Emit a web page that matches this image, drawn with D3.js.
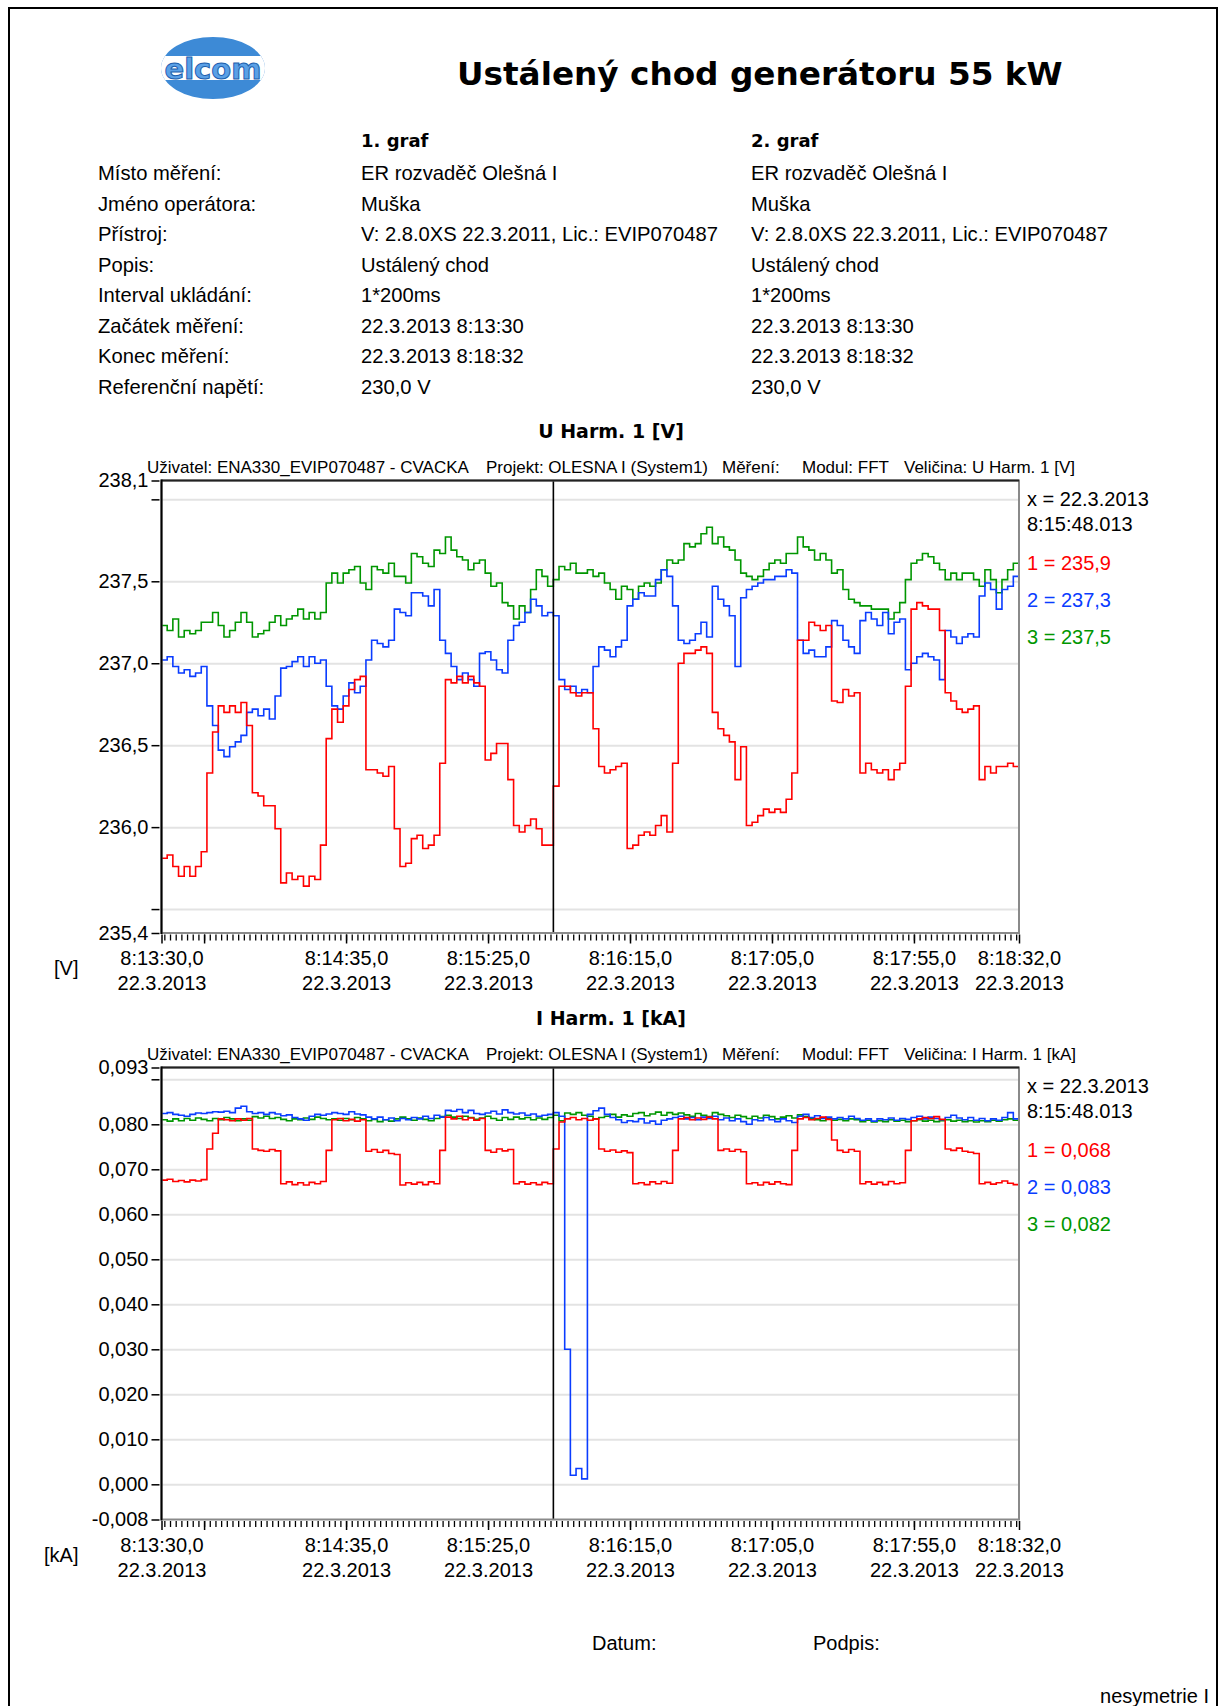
<!DOCTYPE html>
<html>
<head>
<meta charset="utf-8">
<script src="https://cdn.jsdelivr.net/npm/d3@7"></script>
<style>
  body { margin: 0; background: #fff; }
  svg text { font-family: "Liberation Sans", Arial, sans-serif; fill: #000; }
</style>
</head>
<body>
<svg id="page" width="1222" height="1706"></svg>
<script>
// ---- report header ----
const reportTitle = "Ustálený chod generátoru 55 kW";
const columnTitles = ["1. graf", "2. graf"];
const headerLabels = ["Místo měření:", "Jméno operátora:", "Přístroj:", "Popis:", "Interval ukládání:",
    "Začátek měření:", "Konec měření:", "Referenční napětí:"];
const graf1Values = ["ER rozvaděč Olešná I", "Muška", "V: 2.8.0XS 22.3.2011, Lic.: EVIP070487", "Ustálený chod",
    "1*200ms", "22.3.2013 8:13:30", "22.3.2013 8:18:32", "230,0 V"];
const graf2Values = ["ER rozvaděč Olešná I", "Muška", "V: 2.8.0XS 22.3.2011, Lic.: EVIP070487", "Ustálený chod",
    "1*200ms", "22.3.2013 8:13:30", "22.3.2013 8:18:32", "230,0 V"];

// ---- time axis (seconds from 8:13:30) ----
const startClock = [8, 13, 30];
const dateLabel = "22.3.2013";
const duration = 302;
const sampleStep = 2;
const majorTicks = [0, 15, 65, 115, 165, 215, 265, 302];
const labelTicks = [0, 65, 115, 165, 215, 265, 302];
const cursorTime = 138.013;
const cursorLabel = ["x = 22.3.2013", "8:15:48.013"];

// ---- U Harm. 1 [V], one value every 2 s ----
const uRed = [
  235.81, 235.83, 235.76, 235.70, 235.76, 235.70, 235.76, 235.85,
  236.33, 236.58, 236.74, 236.70, 236.74, 236.70, 236.76, 236.62,
  236.21, 236.19, 236.13, 236.13, 235.99, 235.66, 235.72, 235.68,
  235.70, 235.64, 235.70, 235.68, 235.89, 236.54, 236.72, 236.64,
  236.74, 236.84, 236.90, 236.92, 236.35, 236.35, 236.33, 236.31,
  236.37, 235.99, 235.76, 235.78, 235.93, 235.95, 235.87, 235.89,
  235.95, 236.39, 236.90, 236.88, 236.92, 236.88, 236.92, 236.88,
  236.86, 236.41, 236.45, 236.51, 236.51, 236.29, 236.01, 235.97,
  236.01, 236.05, 235.99, 235.89, 235.89, 236.25, 236.86, 236.86,
  236.82, 236.80, 236.82, 236.82, 236.60, 236.37, 236.33, 236.35,
  236.37, 236.39, 235.87, 235.89, 235.95, 235.97, 235.95, 236.01,
  236.07, 235.97, 236.39, 237.00, 237.06, 237.06, 237.08, 237.10,
  237.06, 236.70, 236.60, 236.56, 236.52, 236.29, 236.49, 236.01,
  236.03, 236.07, 236.11, 236.09, 236.11, 236.09, 236.17, 236.33,
  237.14, 237.14, 237.25, 237.23, 237.20, 237.23, 236.77, 236.76,
  236.84, 236.80, 236.82, 236.33, 236.39, 236.35, 236.33, 236.35,
  236.29, 236.35, 236.39, 236.86, 237.33, 237.37, 237.35, 237.33,
  237.33, 237.20, 236.82, 236.77, 236.72, 236.70, 236.72, 236.74,
  236.29, 236.37, 236.33, 236.37, 236.37, 236.39, 236.37];
const uBlue = [
  237.02, 237.04, 236.98, 236.94, 236.96, 236.92, 236.94, 236.98,
  236.74, 236.62, 236.47, 236.43, 236.49, 236.52, 236.56, 236.70,
  236.72, 236.68, 236.72, 236.66, 236.80, 236.97, 236.98, 237.01,
  237.04, 236.98, 237.04, 237.00, 237.02, 236.86, 236.74, 236.72,
  236.80, 236.88, 236.82, 236.86, 237.02, 237.14, 237.12, 237.10,
  237.14, 237.33, 237.31, 237.29, 237.43, 237.43, 237.41, 237.35,
  237.45, 237.14, 237.06, 236.98, 236.90, 236.94, 236.90, 236.86,
  237.06, 237.07, 237.02, 236.96, 236.94, 237.14, 237.23, 237.25,
  237.31, 237.39, 237.35, 237.29, 237.31, 237.29, 236.90, 236.84,
  236.86, 236.82, 236.84, 236.82, 236.98, 237.10, 237.08, 237.04,
  237.10, 237.14, 237.35, 237.39, 237.43, 237.41, 237.41, 237.51,
  237.57, 237.53, 237.35, 237.14, 237.12, 237.14, 237.18, 237.25,
  237.16, 237.47, 237.39, 237.35, 237.29, 236.98, 237.40, 237.45,
  237.47, 237.49, 237.51, 237.51, 237.53, 237.53, 237.57, 237.55,
  237.14, 237.06, 237.08, 237.04, 237.04, 237.10, 237.26, 237.23,
  237.14, 237.10, 237.06, 237.26, 237.31, 237.27, 237.23, 237.31,
  237.18, 237.25, 237.27, 236.96, 237.00, 237.04, 237.06, 237.04,
  237.02, 236.90, 237.20, 237.16, 237.12, 237.16, 237.18, 237.16,
  237.41, 237.49, 237.45, 237.33, 237.45, 237.47, 237.53];
const uGreen = [
  237.23, 237.20, 237.27, 237.16, 237.20, 237.18, 237.20, 237.25,
  237.25, 237.31, 237.23, 237.16, 237.20, 237.25, 237.31, 237.25,
  237.16, 237.18, 237.20, 237.25, 237.29, 237.23, 237.27, 237.29,
  237.33, 237.27, 237.31, 237.27, 237.31, 237.49, 237.55, 237.49,
  237.55, 237.57, 237.59, 237.49, 237.45, 237.59, 237.57, 237.55,
  237.61, 237.53, 237.53, 237.49, 237.67, 237.65, 237.61, 237.59,
  237.69, 237.67, 237.77, 237.69, 237.65, 237.63, 237.57, 237.61,
  237.63, 237.55, 237.47, 237.49, 237.37, 237.35, 237.27, 237.35,
  237.31, 237.45, 237.57, 237.53, 237.47, 237.51, 237.59, 237.57,
  237.61, 237.55, 237.55, 237.57, 237.53, 237.55, 237.49, 237.45,
  237.39, 237.47, 237.45, 237.39, 237.47, 237.49, 237.47, 237.49,
  237.57, 237.63, 237.61, 237.63, 237.73, 237.71, 237.73, 237.79,
  237.83, 237.73, 237.77, 237.71, 237.69, 237.63, 237.55, 237.53,
  237.51, 237.53, 237.57, 237.61, 237.63, 237.61, 237.67, 237.67,
  237.77, 237.71, 237.69, 237.63, 237.67, 237.63, 237.55, 237.57,
  237.45, 237.39, 237.37, 237.35, 237.35, 237.33, 237.33, 237.33,
  237.27, 237.31, 237.37, 237.51, 237.61, 237.63, 237.67, 237.65,
  237.61, 237.57, 237.51, 237.55, 237.51, 237.55, 237.55, 237.51,
  237.47, 237.57, 237.51, 237.43, 237.51, 237.57, 237.61];
const uLegend = ["1 = 235,9", "2 = 237,3", "3 = 237,5"];

// ---- I Harm. 1 [kA], one value every 2 s ----
const iRed = [
  0.0676, 0.0678, 0.0673, 0.0675, 0.0672, 0.0676, 0.0674, 0.0677,
  0.0745, 0.0780, 0.0812, 0.0810, 0.0808, 0.0812, 0.0809, 0.0813,
  0.0745, 0.0742, 0.0740, 0.0744, 0.0741, 0.0668, 0.0672, 0.0666,
  0.0670, 0.0665, 0.0671, 0.0668, 0.0673, 0.0742, 0.0810, 0.0813,
  0.0808, 0.0811, 0.0807, 0.0810, 0.0740, 0.0744, 0.0738, 0.0742,
  0.0735, 0.0733, 0.0665, 0.0670, 0.0667, 0.0671, 0.0666, 0.0672,
  0.0668, 0.0742, 0.0816, 0.0812, 0.0818, 0.0810, 0.0814, 0.0809,
  0.0813, 0.0742, 0.0738, 0.0745, 0.0741, 0.0744, 0.0668, 0.0672,
  0.0667, 0.0670, 0.0666, 0.0671, 0.0668, 0.0745, 0.0805, 0.0812,
  0.0815, 0.0810, 0.0813, 0.0809, 0.0812, 0.0745, 0.0740, 0.0743,
  0.0738, 0.0741, 0.0737, 0.0668, 0.0670, 0.0666, 0.0672, 0.0668,
  0.0673, 0.0669, 0.0742, 0.0812, 0.0815, 0.0810, 0.0814, 0.0811,
  0.0816, 0.0812, 0.0742, 0.0745, 0.0740, 0.0744, 0.0739, 0.0668,
  0.0670, 0.0665, 0.0671, 0.0667, 0.0672, 0.0668, 0.0666, 0.0742,
  0.0812, 0.0815, 0.0810, 0.0813, 0.0816, 0.0811, 0.0765, 0.0742,
  0.0738, 0.0744, 0.0740, 0.0668, 0.0672, 0.0667, 0.0671, 0.0666,
  0.0673, 0.0668, 0.0670, 0.0742, 0.0808, 0.0812, 0.0815, 0.0813,
  0.0817, 0.0811, 0.0745, 0.0742, 0.0747, 0.0740, 0.0738, 0.0735,
  0.0668, 0.0671, 0.0667, 0.0670, 0.0674, 0.0669, 0.0666];
const iBlue = [
  0.0824, 0.0826, 0.0822, 0.0820, 0.0818, 0.0822, 0.0825, 0.0824,
  0.0826, 0.0828, 0.0827, 0.0829, 0.0826, 0.0836, 0.0840, 0.0828,
  0.0824, 0.0826, 0.0822, 0.0826, 0.0823, 0.0819, 0.0821, 0.0815,
  0.0812, 0.0809, 0.0818, 0.0822, 0.0820, 0.0823, 0.0826, 0.0824,
  0.0822, 0.0828, 0.0823, 0.0821, 0.0816, 0.0812, 0.0816, 0.0810,
  0.0814, 0.0808, 0.0813, 0.0810, 0.0815, 0.0812, 0.0818, 0.0813,
  0.0820, 0.0816, 0.0831, 0.0829, 0.0833, 0.0826, 0.0831, 0.0824,
  0.0822, 0.0825, 0.0829, 0.0823, 0.0832, 0.0826, 0.0823, 0.0825,
  0.0820, 0.0823, 0.0818, 0.0820, 0.0822, 0.0826, 0.0818, 0.0300,
  0.0020, 0.0035, 0.0012, 0.0822, 0.0830, 0.0836, 0.0822, 0.0815,
  0.0810, 0.0804, 0.0808, 0.0806, 0.0812, 0.0803, 0.0807, 0.0800,
  0.0809, 0.0812, 0.0815, 0.0818, 0.0812, 0.0815, 0.0810, 0.0816,
  0.0813, 0.0818, 0.0810, 0.0814, 0.0808, 0.0812, 0.0806, 0.0800,
  0.0810, 0.0808, 0.0815, 0.0810, 0.0806, 0.0812, 0.0808, 0.0804,
  0.0818, 0.0822, 0.0815, 0.0819, 0.0813, 0.0816, 0.0812, 0.0815,
  0.0812, 0.0818, 0.0813, 0.0809, 0.0812, 0.0807, 0.0812, 0.0810,
  0.0814, 0.0809, 0.0813, 0.0811, 0.0815, 0.0818, 0.0812, 0.0816,
  0.0813, 0.0810, 0.0815, 0.0820, 0.0814, 0.0810, 0.0815, 0.0809,
  0.0813, 0.0808, 0.0812, 0.0809, 0.0815, 0.0826, 0.0812];
const iGreen = [
  0.0810, 0.0807, 0.0812, 0.0808, 0.0813, 0.0809, 0.0814, 0.0811,
  0.0808, 0.0813, 0.0810, 0.0815, 0.0812, 0.0808, 0.0812, 0.0809,
  0.0817, 0.0814, 0.0818, 0.0813, 0.0815, 0.0811, 0.0808, 0.0812,
  0.0810, 0.0814, 0.0811, 0.0816, 0.0813, 0.0810, 0.0812, 0.0809,
  0.0813, 0.0810, 0.0815, 0.0812, 0.0808, 0.0811, 0.0806, 0.0810,
  0.0807, 0.0812, 0.0816, 0.0812, 0.0809, 0.0814, 0.0811, 0.0808,
  0.0813, 0.0817, 0.0820, 0.0816, 0.0813, 0.0818, 0.0815, 0.0811,
  0.0814, 0.0818, 0.0813, 0.0809, 0.0815, 0.0811, 0.0816, 0.0812,
  0.0815, 0.0810, 0.0814, 0.0811, 0.0815, 0.0820, 0.0808, 0.0825,
  0.0822, 0.0826, 0.0820, 0.0818, 0.0812, 0.0815, 0.0818, 0.0822,
  0.0816, 0.0821, 0.0818, 0.0824, 0.0826, 0.0819, 0.0823, 0.0827,
  0.0820, 0.0826, 0.0822, 0.0825, 0.0821, 0.0818, 0.0824, 0.0820,
  0.0817, 0.0826, 0.0822, 0.0819, 0.0815, 0.0820, 0.0817, 0.0813,
  0.0818, 0.0814, 0.0820, 0.0817, 0.0812, 0.0816, 0.0819, 0.0814,
  0.0821, 0.0817, 0.0812, 0.0810, 0.0808, 0.0812, 0.0809, 0.0811,
  0.0808, 0.0812, 0.0810, 0.0806, 0.0809, 0.0805, 0.0808, 0.0806,
  0.0810, 0.0807, 0.0809, 0.0806, 0.0808, 0.0810, 0.0807, 0.0809,
  0.0806, 0.0808, 0.0810, 0.0807, 0.0809, 0.0806, 0.0808, 0.0805,
  0.0808, 0.0806, 0.0809, 0.0807, 0.0810, 0.0812, 0.0809];
const iLegend = ["1 = 0,068", "2 = 0,083", "3 = 0,082"];

const seriesColors = ["#ff0000", "#0a3cff", "#009600"];

// ---- layout ----
const plotLeft = 161.5, plotRight = 1019;
const boldFont = "'DejaVu Sans', Verdana, sans-serif";
const subtitleX = [147, 486, 722, 802, 904];
const locale = d3.formatLocale({ decimal: ",", thousands: " ", grouping: [3], currency: ["", ""], minus: "-" });

const svg = d3.select("#page");

// page frame
svg.append("rect")
    .attr("x", 9).attr("y", 8).attr("width", 1208).attr("height", 1730)
    .attr("fill", "none").attr("stroke", "#000").attr("stroke-width", 2);

// logo
const logo = svg.append("g");
logo.append("clipPath").attr("id", "logoClip")
    .append("ellipse").attr("cx", 213).attr("cy", 68).attr("rx", 52).attr("ry", 31);
logo.append("ellipse").attr("cx", 213).attr("cy", 68).attr("rx", 52).attr("ry", 31)
    .attr("fill", "#3d8ad6");
logo.append("rect").attr("x", 150).attr("y", 56).attr("width", 130).attr("height", 24)
    .attr("fill", "#fff").attr("clip-path", "url(#logoClip)");
logo.append("text").attr("x", 213).attr("y", 79).attr("text-anchor", "middle")
    .style("font-family", boldFont).attr("font-weight", "bold").attr("font-size", 29)
    .style("fill", "#5aa0e6").attr("stroke", "#1d5fae").attr("stroke-width", 1)
    .text("elcom");

// title
svg.append("text").attr("x", 457).attr("y", 85)
    .style("font-family", boldFont).attr("font-weight", "bold").attr("font-size", 32.7)
    .text(reportTitle);

// header table
const rowY = i => 180 + i * 30.5;
columnTitles.forEach((t, i) => {
    svg.append("text").attr("x", [361, 751][i]).attr("y", 147)
        .style("font-family", boldFont).attr("font-weight", "bold").attr("font-size", 18).text(t);
});
headerLabels.forEach((t, i) => {
    svg.append("text").attr("x", 98).attr("y", rowY(i)).attr("font-size", 20.2).text(t);
    svg.append("text").attr("x", 361).attr("y", rowY(i)).attr("font-size", 20.2).text(graf1Values[i]);
    svg.append("text").attr("x", 751).attr("y", rowY(i)).attr("font-size", 20.2).text(graf2Values[i]);
});

function fmtTime(t) {
    const s = startClock[0] * 3600 + startClock[1] * 60 + startClock[2] + Math.round(t);
    const h = Math.floor(s / 3600), m = Math.floor(s % 3600 / 60), ss = s % 60;
    return `${h}:${String(m).padStart(2, "0")}:${String(ss).padStart(2, "0")},0`;
}

const xScale = d3.scaleLinear().domain([0, duration]).range([plotLeft, plotRight]);
const minorTicks = d3.range(1, duration, 2);

function drawChart(c) {
    const y = d3.scaleLinear().domain(c.domain).range([c.bottom, c.top]);
    const g = svg.append("g");

    g.append("text").attr("x", 611).attr("y", c.top - 42.5).attr("text-anchor", "middle")
        .style("font-family", boldFont).attr("font-weight", "bold").attr("font-size", 19)
        .text(c.title);

    c.subtitle.forEach((s, i) => {
        g.append("text").attr("x", subtitleX[i]).attr("y", c.top - 7.5).attr("font-size", 17).text(s);
    });

    // grid
    g.append("g").attr("transform", `translate(${plotLeft},0)`)
        .call(d3.axisLeft(y).tickValues(c.grid).tickSize(-(plotRight - plotLeft)).tickFormat(""))
        .call(a => a.select(".domain").remove())
        .selectAll("line").attr("stroke", "#e3e3e3").attr("stroke-width", 2);

    // series
    const clipId = "clip" + c.id;
    g.append("clipPath").attr("id", clipId).append("rect")
        .attr("x", plotLeft).attr("y", c.top).attr("width", plotRight - plotLeft).attr("height", c.bottom - c.top);
    const line = d3.line().x(d => xScale(d.t)).y(d => y(d.v)).curve(d3.curveStepAfter);
    const order = [2, 1, 0];
    order.forEach(k => {
        const vals = c.series[k];
        const pts = vals.map((v, i) => ({ t: i * sampleStep, v }));
        pts.push({ t: duration, v: vals[vals.length - 1] });
        g.append("path").datum(pts).attr("d", line)
            .attr("fill", "none").attr("stroke", seriesColors[k]).attr("stroke-width", 1.6)
            .attr("clip-path", `url(#${clipId})`);
    });

    // cursor
    g.append("line").attr("x1", xScale(cursorTime)).attr("x2", xScale(cursorTime))
        .attr("y1", c.top).attr("y2", c.bottom).attr("stroke", "#000").attr("stroke-width", 1.6);

    // plot frame
    g.append("rect").attr("x", plotLeft).attr("y", c.top)
        .attr("width", plotRight - plotLeft).attr("height", c.bottom - c.top)
        .attr("fill", "none").attr("stroke", "#8a8a8a").attr("stroke-width", 2);
    g.append("line").attr("x1", plotLeft).attr("x2", plotRight).attr("y1", c.top).attr("y2", c.top)
        .attr("stroke", "#222").attr("stroke-width", 2);
    g.append("line").attr("x1", plotLeft).attr("x2", plotLeft).attr("y1", c.top - 1).attr("y2", c.bottom + 1)
        .attr("stroke", "#000").attr("stroke-width", 2);

    // y axis
    const yTicks = [c.domain[0], ...c.grid, c.domain[1]];
    const yAxis = g.append("g").attr("transform", `translate(${plotLeft - 2},0)`)
        .call(d3.axisLeft(y).tickValues(yTicks).tickSize(8).tickPadding(3)
            .tickFormat(d => c.noLabel.includes(d) ? "" : c.fmt(d)));
    yAxis.select(".domain").remove();
    yAxis.attr("font-family", null).attr("font-size", 20);
    yAxis.selectAll("line").attr("stroke", "#000").attr("stroke-width", 1.5);

    // x axis: minor and major ticks
    const xAxis = g.append("g").attr("transform", `translate(0,${c.bottom + 1.5})`);
    xAxis.append("g")
        .call(d3.axisBottom(xScale).tickValues(minorTicks).tickSize(6).tickFormat(""))
        .call(a => a.select(".domain").remove())
        .selectAll("line").attr("stroke", "#000").attr("stroke-width", 1.3);
    const major = xAxis.append("g")
        .call(d3.axisBottom(xScale).tickValues(majorTicks).tickSize(9)
            .tickFormat(d => labelTicks.includes(d) ? fmtTime(d) : ""));
    major.select(".domain").remove();
    major.attr("font-family", null).attr("font-size", 20);
    major.selectAll("line").attr("stroke", "#000").attr("stroke-width", 1.5);
    major.selectAll(".tick text").each(function () {
        const t = d3.select(this);
        const s = t.text();
        t.text(null).attr("y", null).attr("dy", null);
        if (!s) return;
        t.append("tspan").attr("x", 0).attr("y", 30.5).text(s);
        t.append("tspan").attr("x", 0).attr("y", 55.5).text(dateLabel);
    });

    // unit
    g.append("text").attr("x", c.unitX).attr("y", c.bottom + 42).attr("font-size", 20).text(c.unit);

    // cursor readout
    const lx = 1027;
    cursorLabel.forEach((s, i) => {
        g.append("text").attr("x", lx).attr("y", c.top + [25, 50][i]).attr("font-size", 20).text(s);
    });
    c.legend.forEach((s, i) => {
        g.append("text").attr("x", lx).attr("y", c.top + [89.5, 126, 163][i]).attr("font-size", 20)
            .style("fill", seriesColors[i]).text(s);
    });
}

drawChart({
    id: "U",
    title: "U Harm. 1 [V]",
    subtitle: ["Uživatel: ENA330_EVIP070487 - CVACKA", "Projekt: OLESNA I (System1)", "Měření:",
        "Modul: FFT", "Veličina: U Harm. 1 [V]"],
    top: 480.5, bottom: 933,
    domain: [235.354, 238.115],
    grid: [235.5, 236, 236.5, 237, 237.5, 238],
    noLabel: [235.5, 238],
    fmt: locale.format(".1f"),
    series: [uRed, uBlue, uGreen],
    legend: uLegend,
    unit: "[V]",
    unitX: 54
});

drawChart({
    id: "I",
    title: "I Harm. 1 [kA]",
    subtitle: ["Uživatel: ENA330_EVIP070487 - CVACKA", "Projekt: OLESNA I (System1)", "Měření:",
        "Modul: FFT", "Veličina: I Harm. 1 [kA]"],
    top: 1067.5, bottom: 1519.5,
    domain: [-0.00782, 0.09262],
    grid: [0, 0.01, 0.02, 0.03, 0.04, 0.05, 0.06, 0.07, 0.08, 0.09],
    noLabel: [0.09],
    fmt: locale.format(".3f"),
    series: [iRed, iBlue, iGreen],
    legend: iLegend,
    unit: "[kA]",
    unitX: 44
});

// footer
svg.append("text").attr("x", 592).attr("y", 1650).attr("font-size", 20).text("Datum:");
svg.append("text").attr("x", 813).attr("y", 1650).attr("font-size", 20).text("Podpis:");
svg.append("text").attr("x", 1209).attr("y", 1703).attr("text-anchor", "end").attr("font-size", 20).text("nesymetrie I");
</script>
</body>
</html>
